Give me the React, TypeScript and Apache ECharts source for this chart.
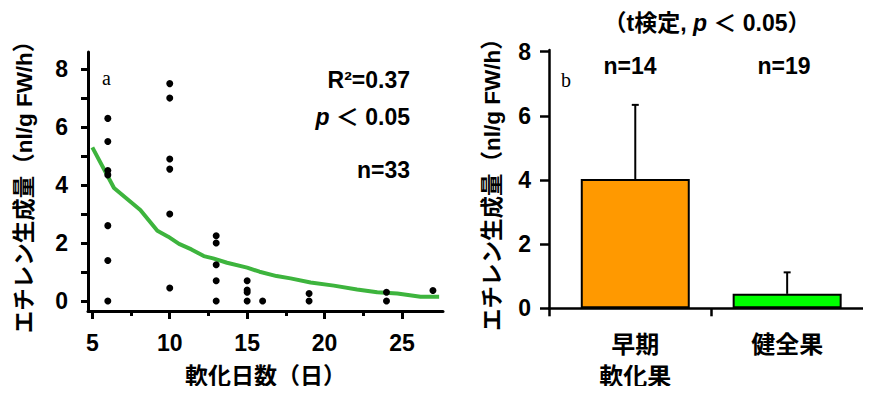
import React, { useEffect, useRef } from "react";
import * as echarts from "echarts";

// ---- data (a) scatter: softening days vs ethylene production ----
const scatterDays = [6, 6, 6, 6, 6, 6, 6, 10, 10, 10, 10, 10, 10, 13, 13, 13, 13, 13, 15, 15, 15, 15, 16, 19, 19, 24, 24, 27];
const scatterEthylene = [6.3, 5.5, 4.5, 4.35, 2.6, 1.4, 0, 7.5, 7.0, 4.9, 4.55, 3.0, 0.45, 2.25, 2.0, 1.25, 0.7, 0, 0.7, 0.38, 0.3, 0, 0, 0.26, 0, 0.3, 0, 0.36];

// fitted curve
const trendDays = [5.0, 6.4, 8.1, 9.2, 9.9, 10.6, 11.4, 12.2, 12.8, 13.7, 15.0, 15.8, 16.9, 17.8, 19.1, 20.6, 22.1, 23.4, 24.7, 26.2, 27.4];
const trendValues = [5.3, 3.9, 3.14, 2.42, 2.22, 1.97, 1.78, 1.55, 1.47, 1.32, 1.15, 1.01, 0.86, 0.78, 0.64, 0.53, 0.4, 0.3, 0.26, 0.15, 0.15];

// ---- data (b) bars ----
const barCategories = ["早期\n軟化果", "健全果"];
const barPositions = [1, 2];
const barMeans = [4.03, 0.45];
const barUpper = [6.34, 1.12];
const barColors = ["#FF9900", "#00FF00"];

// ---- ticks ----
const leftXMajorTicks = [5, 10, 15, 20, 25];
const leftXMinorTicks = [7.5, 12.5, 17.5, 22.5];
const leftYTicks = [0, 1, 2, 3, 4, 5, 6, 7, 8];
const leftYLabels = [0, 2, 4, 6, 8];
const rightYTicks = [0, 2, 4, 6, 8];

const yName = "エチレン生成量（nl/g FW/h）";
const xName = "軟化日数（日）";

const LATIN = "'Liberation Sans', Arial, 'Noto Sans CJK JP', sans-serif";
const CJK = "'Noto Sans CJK JP', 'Liberation Sans', sans-serif";

export default function App() {
  const ref = useRef<HTMLDivElement>(null);
  useEffect(() => {
    if (!ref.current) return;
    const chart = echarts.init(ref.current, undefined, { renderer: "svg" });

    const RX_MIN = 0.432;
    const RX_MAX = 2.552;

    const yNameStyle = {
      fontSize: 22.5,
      fontWeight: "bold",
      color: "#000",
      fontFamily: LATIN,
      lineHeight: 23,
      verticalAlign: "middle",
    };

    const option: any = {
      animation: false,
      backgroundColor: "#fff",
      textStyle: { fontFamily: LATIN, color: "#000" },
      grid: [
        { left: 88, top: 52, right: 428, bottom: 83 },
        { left: 549, top: 50, right: 0, bottom: 85.7 },
      ],
      xAxis: [
        {
          gridIndex: 0,
          type: "value",
          min: 4.72,
          max: 27.65,
          splitLine: { show: false },
          axisLine: { onZero: false, lineStyle: { color: "#000", width: 3 } },
          axisTick: { customValues: leftXMajorTicks, length: 8, lineStyle: { color: "#000", width: 3 } },
          axisLabel: {
            customValues: leftXMajorTicks,
            fontSize: 23,
            fontWeight: "bold",
            color: "#000",
            fontFamily: LATIN,
            margin: 20,
          },
          name: xName,
          nameLocation: "middle",
          nameGap: 63,
          nameTextStyle: {
            fontSize: 23,
            fontWeight: "bold",
            color: "#000",
            fontFamily: CJK,
            lineHeight: 23,
            verticalAlign: "middle",
          },
        },
        {
          gridIndex: 0,
          type: "value",
          min: 4.72,
          max: 27.65,
          position: "bottom",
          splitLine: { show: false },
          axisLine: { show: false, onZero: false },
          axisTick: { customValues: leftXMinorTicks, length: 5, lineStyle: { color: "#000", width: 3 } },
          axisLabel: { show: false },
        },
        {
          gridIndex: 1,
          type: "value",
          min: RX_MIN,
          max: RX_MAX,
          splitLine: { show: false },
          axisLine: { onZero: false, lineStyle: { color: "#000", width: 2.5 } },
          axisTick: { customValues: [RX_MIN, 1.5], length: 8, lineStyle: { color: "#000", width: 2.5 } },
          axisLabel: {
            customValues: barPositions,
            formatter: (v: number) => barCategories[Math.round(v) - 1],
            fontSize: 24,
            lineHeight: 32,
            fontWeight: "bold",
            color: "#000",
            fontFamily: CJK,
            margin: 18,
            verticalAlign: "top",
          },
        },
      ],
      yAxis: [
        {
          gridIndex: 0,
          type: "value",
          min: -0.345,
          max: 8.59,
          splitLine: { show: false },
          axisLine: { onZero: false, lineStyle: { color: "#000", width: 3 } },
          axisTick: { customValues: leftYTicks, length: 7, lineStyle: { color: "#000", width: 3 } },
          axisLabel: {
            customValues: leftYLabels,
            fontSize: 23,
            fontWeight: "bold",
            color: "#000",
            fontFamily: LATIN,
            margin: 20,
          },
          name: yName,
          nameLocation: "middle",
          nameRotate: 90,
          nameGap: 64,
          nameTextStyle: yNameStyle,
        },
        {
          gridIndex: 1,
          type: "value",
          min: 0,
          max: 8.05,
          splitLine: { show: false },
          axisLine: { onZero: false, lineStyle: { color: "#000", width: 2.5 } },
          axisTick: { customValues: rightYTicks, length: 9, lineStyle: { color: "#000", width: 2.5 } },
          axisLabel: {
            customValues: rightYTicks,
            fontSize: 23,
            fontWeight: "bold",
            color: "#000",
            fontFamily: LATIN,
            margin: 18,
          },
          name: yName,
          nameLocation: "middle",
          nameRotate: 90,
          nameGap: 57,
          nameTextStyle: yNameStyle,
        },
      ],
      series: [
        {
          type: "line",
          xAxisIndex: 0,
          yAxisIndex: 0,
          data: trendDays.map((d, i) => [d, trendValues[i]]),
          showSymbol: false,
          symbol: "none",
          lineStyle: { color: "#3DB43D", width: 4 },
          z: 2,
        },
        {
          type: "scatter",
          xAxisIndex: 0,
          yAxisIndex: 0,
          data: scatterDays.map((d, i) => [d, scatterEthylene[i]]),
          symbol: "circle",
          symbolSize: 7,
          itemStyle: { color: "#000", opacity: 1 },
          z: 3,
        },
        {
          type: "bar",
          xAxisIndex: 2,
          yAxisIndex: 1,
          barWidth: 109,
          data: barPositions.map((p, i) => ({
            value: [p, barMeans[i]],
            itemStyle: { color: barColors[i], borderColor: "#000", borderWidth: 2 },
          })),
        },
        {
          type: "custom",
          xAxisIndex: 2,
          yAxisIndex: 1,
          data: barPositions.map((p, i) => [p, barMeans[i], barUpper[i]]),
          renderItem: (params: any, api: any) => {
            const x = api.value(0);
            const base = api.coord([x, api.value(1)]);
            const top = api.coord([x, api.value(2)]);
            return {
              type: "group",
              children: [
                {
                  type: "line",
                  shape: { x1: base[0], y1: base[1], x2: top[0], y2: top[1] },
                  style: { stroke: "#000", lineWidth: 2 },
                },
                {
                  type: "line",
                  shape: { x1: top[0] - 3.5, y1: top[1], x2: top[0] + 3.5, y2: top[1] },
                  style: { stroke: "#000", lineWidth: 2 },
                },
              ],
            };
          },
          z: 3,
        },
      ],
      graphic: [
        {
          type: "text",
          left: 102,
          top: 68,
          style: { text: "a", font: "20px 'Liberation Serif', serif", fill: "#000" },
        },
        {
          type: "text",
          x: 410,
          y: 80,
          style: {
            text: "R²=0.37",
            font: `bold 23px ${LATIN}`,
            fill: "#000",
            align: "right",
            verticalAlign: "middle",
          },
        },
        {
          type: "text",
          x: 410,
          y: 117,
          style: {
            text: "{i|p} ＜ 0.05",
            font: `bold 23px ${LATIN}`,
            fill: "#000",
            align: "right",
            verticalAlign: "middle",
            rich: {
              i: { fontStyle: "italic", fontWeight: "bold", fontSize: 23, fontFamily: LATIN, fill: "#000" },
            },
          },
        },
        {
          type: "text",
          x: 410,
          y: 170,
          style: {
            text: "n=33",
            font: `bold 23px ${LATIN}`,
            fill: "#000",
            align: "right",
            verticalAlign: "middle",
          },
        },
        {
          type: "text",
          x: 707,
          y: 23,
          style: {
            text: "（t検定, {i|p} ＜ 0.05）",
            font: `bold 23px ${LATIN}`,
            fill: "#000",
            align: "center",
            verticalAlign: "middle",
            rich: {
              i: { fontStyle: "italic", fontWeight: "bold", fontSize: 23, fontFamily: LATIN, fill: "#000" },
            },
          },
        },
        {
          type: "text",
          x: 630,
          y: 66,
          style: { text: "n=14", font: `bold 23px ${LATIN}`, fill: "#000", align: "center", verticalAlign: "middle" },
        },
        {
          type: "text",
          x: 784,
          y: 66,
          style: { text: "n=19", font: `bold 23px ${LATIN}`, fill: "#000", align: "center", verticalAlign: "middle" },
        },
        {
          type: "text",
          left: 561,
          top: 70,
          style: { text: "b", font: "20px 'Liberation Serif', serif", fill: "#000" },
        },
      ],
    };

    chart.setOption(option);
    return () => chart.dispose();
  }, []);

  return <div ref={ref} style={{ width: 871, height: 394, margin: -8 }} />;
}
